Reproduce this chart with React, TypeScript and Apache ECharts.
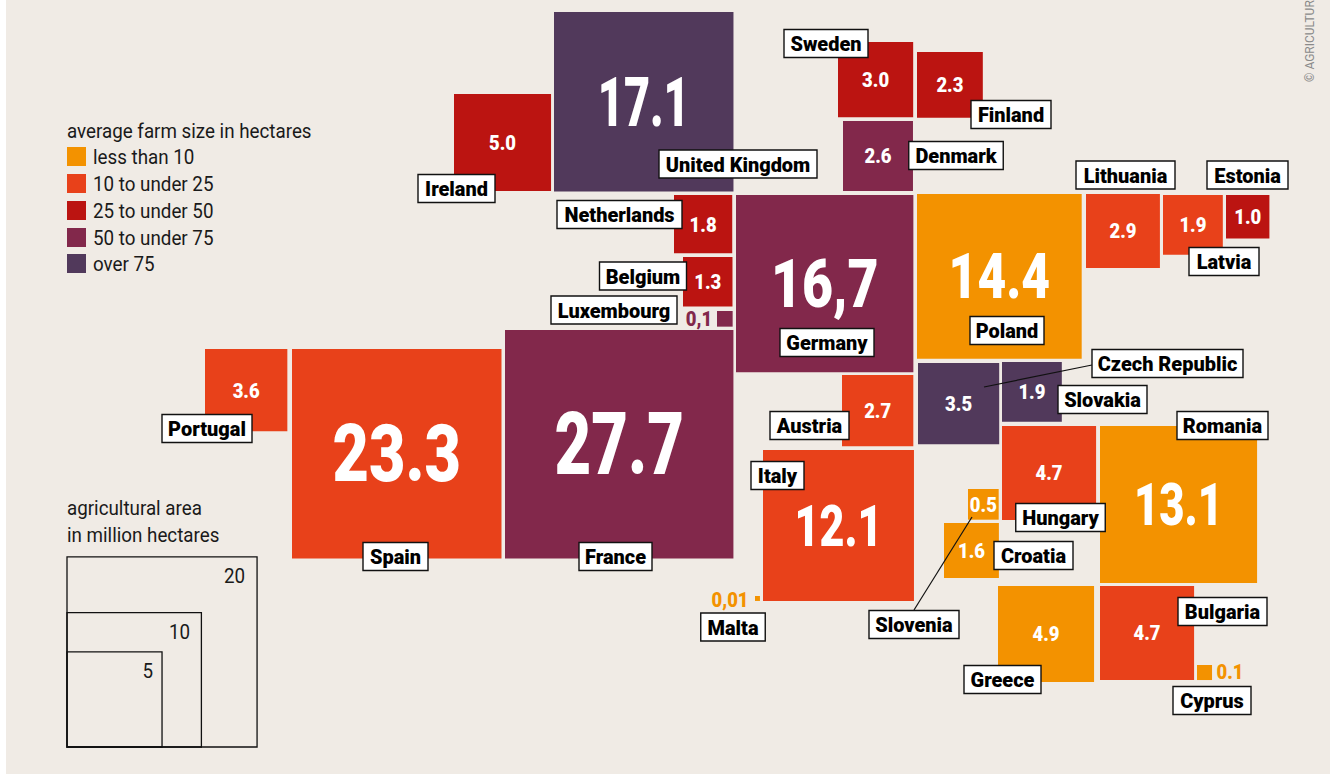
import React, { useEffect, useRef } from "react";
import * as echarts from "echarts";

// Map tiles: country, displayed value, agricultural area (million ha), size class, cartogram position (top-left, map units)
const countries = ["United Kingdom","Ireland","Netherlands","Belgium","Luxembourg","France","Spain","Portugal","Germany","Sweden","Finland","Denmark","Poland","Lithuania","Latvia","Estonia","Czech Republic","Slovakia","Austria","Italy","Hungary","Romania","Slovenia","Croatia","Greece","Bulgaria","Cyprus","Malta"];
const valueTexts = ["17.1","5.0","1.8","1.3","0,1","27.7","23.3","3.6","16,7","3.0","2.3","2.6","14.4","2.9","1.9","1.0","3.5","1.9","2.7","12.1","4.7","13.1","0.5","1.6","4.9","4.7","0.1","0,01"];
const areas = [17.1,5.0,1.8,1.3,0.13,27.7,23.3,3.6,16.7,3.0,2.3,2.6,14.4,2.9,1.9,1.0,3.5,1.9,2.7,12.1,4.7,13.1,0.5,1.6,4.9,4.7,0.12,0.013];
const sizeClass = [4,2,2,2,3,3,1,1,3,2,2,3,0,1,1,2,4,4,1,1,1,0,0,0,0,1,0,0];
const mapX = [554,454,674,683,717,505,292,205,736,838,917,843,917,1086,1163,1226,918,1002,842,763,1002,1100,968,944,998,1100,1197,755];
const mapY = [12,94,195,257,311,330,349,349,195,42,52,121,194,194,195,195,363,362,375,450,426,426,489,523,586,586,665,596];

const classNames = ["less than 10","10 to under 25","25 to under 50","50 to under 75","over 75"];
const classColors = ["#F39200","#E8411A","#BB1411","#82284B","#51395B"];

// Name tags: centre and width
const tagX = [738,456.5,619.5,643,614,615.5,395.5,207,827,826,1011,956,1007,1125.5,1224,1247.5,1167.5,1102.5,809.5,777.5,1060.5,1222.5,914,1033.5,1002.5,1222.5,1212,733];
const tagY = [164,188.5,214.5,276,310,556.5,556.5,428.5,342.5,43.5,114.5,155.5,330.5,175,261.5,175,363.5,399.5,425.5,475.5,517.5,425.5,624.5,555.5,679.5,611.5,700.5,627];
const tagW = [158,77,125,87,126,73,65,90,94,84,80,94.5,74,99,70,81,151,89,79,53,89.5,91,90,79,77,89,78,64.5];

const leaderLines = [[984,387,1092,365],[972,517,914,610]];

// Values drawn next to tiny tiles
const outsideValues = { Luxembourg: [699,319], Cyprus: [1230,672], Malta: [730,600] } as Record<string, number[]>;

// Horizontal squeeze of the large figures
const bigSquash = { "17.1": 0.66, "27.7": 0.73, "23.3": 0.79, "16,7": 0.795, "14.4": 0.795, "13.1": 0.73, "12.1": 0.75 } as Record<string, number>;

const keyValues = [20,10,5];
const keyLabelRight = [245,190,153];
const keyLabelY = [576,632,671];

const TILE_SCALE = 43.4;
const KEY_SCALE = 42.5;
const FONT = 'Roboto,"Liberation Sans",sans-serif';
const BG = "#F0EBE5";
const INK = "#1A1A1A";
const REG_SQUEEZE = 0.895;

const txt = (x: number, y: number, text: string, fontSize: number, fill: string, fontWeight: string | number, align = "center", sx = 1) => ({
  type: "text",
  x,
  y,
  scaleX: sx,
  style: { x: 0, y: 0, text, fontSize, fill, fontWeight, fontFamily: FONT, align, verticalAlign: "middle", textAlign: align, textVerticalAlign: "middle" },
});

const tileSeries = classNames.map((name, c) => ({
  type: "custom",
  name,
  coordinateSystem: "cartesian2d",
  z: 2,
  itemStyle: { color: classColors[c] },
  encode: { x: 0, y: 1 },
  silent: true,
  data: countries
    .map((_, i) => i)
    .filter((i) => sizeClass[i] === c)
    .map((i) => ({ name: countries[i], value: [mapX[i], mapY[i], areas[i]], label: valueTexts[i] })),
  renderItem: (params: any, api: any) => {
    const side = Math.sqrt(api.value(2)) * TILE_SCALE;
    const [x, y] = api.coord([api.value(0), api.value(1)]);
    const [w, h] = api.size([side, side]);
    const s = Math.abs(w);
    const item = (tileSeries[c] as any).data[params.dataIndex];
    const out = outsideValues[item.name];
    const fs = s > 140 ? s * 0.38 : 21;
    const sx = bigSquash[item.label] ?? 0.88;
    const children: any[] = [
      { type: "rect", shape: { x, y, width: s, height: Math.abs(h) }, style: { fill: classColors[c] } },
    ];
    if (out) {
      const [ox, oy] = api.coord(out);
      children.push(txt(ox, oy, item.label, 21, classColors[c], 900, "center", 0.88));
    } else {
      children.push(txt(x + s / 2, y + s / 2 + 0.5, item.label, fs, "#FFFFFF", 900, "center", sx));
    }
    return { type: "group", children };
  },
}));

const leaderSeries = {
  type: "custom",
  coordinateSystem: "cartesian2d",
  z: 3,
  silent: true,
  data: leaderLines,
  renderItem: (_: any, api: any) => {
    const [a, b] = api.coord([api.value(0), api.value(1)]);
    const [c, d] = api.coord([api.value(2), api.value(3)]);
    return { type: "line", shape: { x1: a, y1: b, x2: c, y2: d }, style: { stroke: "#111", lineWidth: 1.2 } };
  },
};

const tagSeries = {
  type: "custom",
  coordinateSystem: "cartesian2d",
  z: 4,
  silent: true,
  data: countries.map((_, i) => [tagX[i], tagY[i], tagW[i], i]),
  renderItem: (_: any, api: any) => {
    const [cx, cy] = api.coord([api.value(0), api.value(1)]);
    const w = api.value(2);
    const h = 28;
    return {
      type: "group",
      children: [
        { type: "rect", shape: { x: cx - w / 2, y: cy - h / 2, width: w, height: h }, style: { fill: "#FFFFFF", stroke: "#111", lineWidth: 1.4 } },
        txt(cx, cy + 0.5, countries[api.value(3)], 21, "#000000", 900, "center", 0.95),
      ],
    };
  },
};

const keySeries = {
  type: "custom",
  coordinateSystem: "cartesian2d",
  z: 2,
  silent: true,
  data: keyValues.map((v, i) => [67, 747, v, i]),
  renderItem: (_: any, api: any) => {
    const side = Math.sqrt(api.value(2)) * KEY_SCALE;
    const [x, y] = api.coord([api.value(0), api.value(1)]);
    const i = api.value(3);
    return {
      type: "group",
      children: [
        { type: "rect", shape: { x, y: y - side, width: side, height: side }, style: { fill: "none", stroke: "#111", lineWidth: 1.3 } },
        txt(keyLabelRight[i], keyLabelY[i], String(keyValues[i]), 21, INK, "normal", "right", REG_SQUEEZE),
      ],
    };
  },
};

const regText = (text: string, x: number, y: number) => ({
  type: "text", x, y, scaleX: REG_SQUEEZE, silent: true,
  style: { text, fontFamily: FONT, fontSize: 21, fill: INK, verticalAlign: "middle", textVerticalAlign: "middle" },
});

const legendTops = [147,174,201,228,254];

const option: any = {
  animation: false,
  backgroundColor: "#FFFFFF",
  grid: { left: 0, right: 0, top: 0, bottom: 0 },
  xAxis: { type: "value", min: 0, max: 1332, show: false },
  yAxis: { type: "value", min: 0, max: 774, inverse: true, show: false },
  graphic: [
    { type: "rect", z: -10, silent: true, shape: { x: 6, y: 0, width: 1324, height: 774 }, style: { fill: BG } },
    regText("average farm size in hectares", 67, 131),
    ...classNames.flatMap((name, i) => [
      { type: "rect", silent: true, shape: { x: 67, y: legendTops[i], width: 19, height: 19 }, style: { fill: classColors[i] } },
      regText(name, 93, legendTops[i] + 10),
    ]),
    regText("agricultural area", 67, 508),
    regText("in million hectares", 67, 535),
    { type: "text", x: 1304, y: 82, rotation: Math.PI / 2, silent: true, style: { text: "© AGRICULTUR", fontFamily: FONT, fontSize: 12, fill: "#8A8A8A" } },
  ],
  series: [...tileSeries, leaderSeries, tagSeries, keySeries],
};

export default function App() {
  const ref = useRef<HTMLDivElement>(null);
  useEffect(() => {
    document.body.style.margin = "0";
    const chart = echarts.init(ref.current!, undefined, { renderer: "svg" });
    chart.setOption(option);
    return () => chart.dispose();
  }, []);
  return <div ref={ref} style={{ width: 1332, height: 774 }} />;
}
